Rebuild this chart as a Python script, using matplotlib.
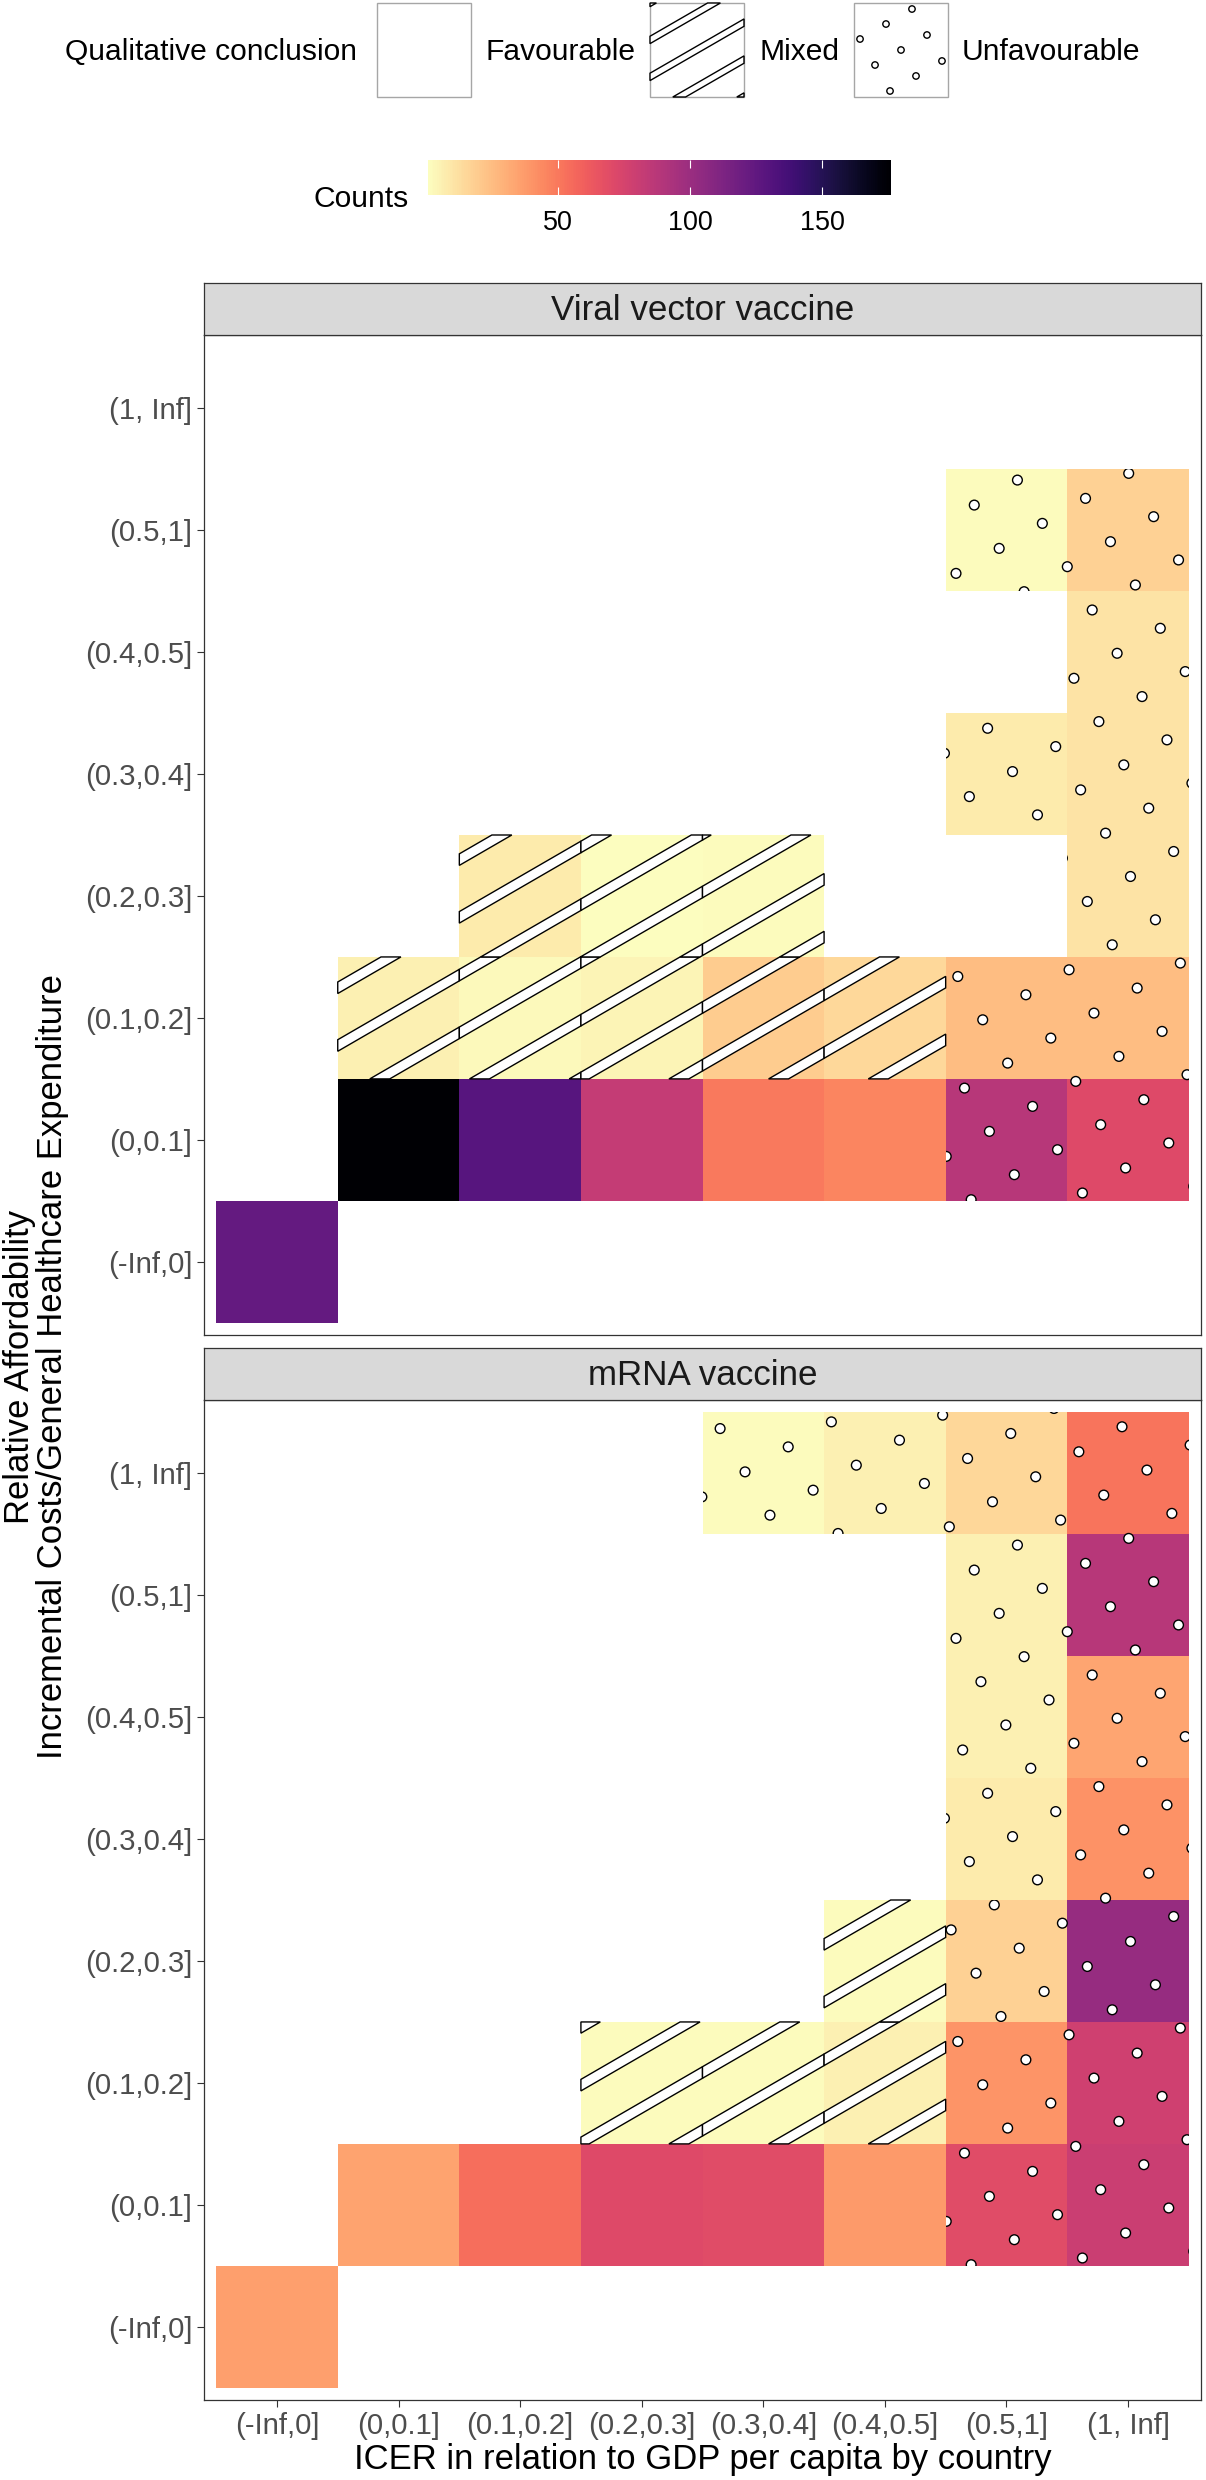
import numpy as np
import matplotlib
matplotlib.use('Agg')
import matplotlib.pyplot as plt
from matplotlib.patches import Rectangle, Polygon, Circle
from matplotlib.colors import Normalize
import matplotlib.cm as cm

plt.rcParams['font.family'] = ['Liberation Sans', 'DejaVu Sans']

########################################################################################################################
# Data
icer_levels = ['(-Inf,0]', '(0,0.1]', '(0.1,0.2]', '(0.2,0.3]', '(0.3,0.4]', '(0.4,0.5]', '(0.5,1]', '(1, Inf]']
afford_levels = ['(-Inf,0]', '(0,0.1]', '(0.1,0.2]', '(0.2,0.3]', '(0.3,0.4]', '(0.4,0.5]', '(0.5,1]', '(1, Inf]']
panel_titles = ['Viral vector vaccine', 'mRNA vaccine']
conclusions = ['Favourable', 'Mixed', 'Unfavourable']

# Viral vector vaccine
vv_icer = ['(-Inf,0]',
           '(0,0.1]', '(0.1,0.2]', '(0.2,0.3]', '(0.3,0.4]', '(0.4,0.5]', '(0.5,1]', '(1, Inf]',
           '(0,0.1]', '(0.1,0.2]', '(0.2,0.3]', '(0.3,0.4]', '(0.4,0.5]', '(0.5,1]', '(1, Inf]',
           '(0.1,0.2]', '(0.2,0.3]', '(0.3,0.4]', '(1, Inf]',
           '(0.5,1]', '(1, Inf]',
           '(1, Inf]',
           '(0.5,1]', '(1, Inf]']
vv_afford = ['(-Inf,0]',
             '(0,0.1]', '(0,0.1]', '(0,0.1]', '(0,0.1]', '(0,0.1]', '(0,0.1]', '(0,0.1]',
             '(0.1,0.2]', '(0.1,0.2]', '(0.1,0.2]', '(0.1,0.2]', '(0.1,0.2]', '(0.1,0.2]', '(0.1,0.2]',
             '(0.2,0.3]', '(0.2,0.3]', '(0.2,0.3]', '(0.2,0.3]',
             '(0.3,0.4]', '(0.3,0.4]',
             '(0.4,0.5]',
             '(0.5,1]', '(0.5,1]']
vv_count = [124,
            176, 129, 83, 50, 46, 88, 71,
            6, 3, 5, 20, 15, 25, 25,
            8, 1, 2, 11,
            8, 11,
            11,
            2, 18]
vv_concl = ['Favourable',
            'Favourable', 'Favourable', 'Favourable', 'Favourable', 'Favourable', 'Unfavourable', 'Unfavourable',
            'Mixed', 'Mixed', 'Mixed', 'Mixed', 'Mixed', 'Unfavourable', 'Unfavourable',
            'Mixed', 'Mixed', 'Mixed', 'Unfavourable',
            'Unfavourable', 'Unfavourable',
            'Unfavourable',
            'Unfavourable', 'Unfavourable']

# mRNA vaccine
mr_icer = ['(-Inf,0]',
           '(0,0.1]', '(0.1,0.2]', '(0.2,0.3]', '(0.3,0.4]', '(0.4,0.5]', '(0.5,1]', '(1, Inf]',
           '(0.2,0.3]', '(0.3,0.4]', '(0.4,0.5]', '(0.5,1]', '(1, Inf]',
           '(0.4,0.5]', '(0.5,1]', '(1, Inf]',
           '(0.5,1]', '(1, Inf]',
           '(0.5,1]', '(1, Inf]',
           '(0.5,1]', '(1, Inf]',
           '(0.3,0.4]', '(0.4,0.5]', '(0.5,1]', '(1, Inf]']
mr_afford = ['(-Inf,0]',
             '(0,0.1]', '(0,0.1]', '(0,0.1]', '(0,0.1]', '(0,0.1]', '(0,0.1]', '(0,0.1]',
             '(0.1,0.2]', '(0.1,0.2]', '(0.1,0.2]', '(0.1,0.2]', '(0.1,0.2]',
             '(0.2,0.3]', '(0.2,0.3]', '(0.2,0.3]',
             '(0.3,0.4]', '(0.3,0.4]',
             '(0.4,0.5]', '(0.4,0.5]',
             '(0.5,1]', '(0.5,1]',
             '(1, Inf]', '(1, Inf]', '(1, Inf]', '(1, Inf]']
mr_count = [36,
            35, 54, 71, 70, 38, 70, 80,
            2, 2, 6, 40, 78,
            2, 18, 102,
            8, 41,
            6, 34,
            6, 88,
            2, 6, 16, 52]
mr_concl = ['Favourable',
            'Favourable', 'Favourable', 'Favourable', 'Favourable', 'Favourable', 'Unfavourable', 'Unfavourable',
            'Mixed', 'Mixed', 'Mixed', 'Unfavourable', 'Unfavourable',
            'Mixed', 'Unfavourable', 'Unfavourable',
            'Unfavourable', 'Unfavourable',
            'Unfavourable', 'Unfavourable',
            'Unfavourable', 'Unfavourable',
            'Unfavourable', 'Unfavourable', 'Unfavourable', 'Unfavourable']

########################################################################################################################
# Layout helpers (figure is 1206 x 2480 px at dpi 100)
W, H = 1206, 2480
def fx(px):
    return px / W
def fy(py):
    return 1 - py / H
def pt(px):
    return px * 0.72

cmap = plt.get_cmap('magma_r')
all_counts = vv_count + mr_count
norm = Normalize(vmin=min(all_counts), vmax=max(all_counts))

GRID = '#333333'

#Clip a polygon to an axis-aligned rectangle (Sutherland-Hodgman).
def clip_rect(pts, x0, x1, y0, y1):
    def clip(pts, inside, inter):
        out = []
        for i in range(len(pts)):
            cur, prev = pts[i], pts[i - 1]
            if inside(cur):
                if not inside(prev):
                    out.append(inter(prev, cur))
                out.append(cur)
            elif inside(prev):
                out.append(inter(prev, cur))
        return out
    def ix(a, b, xv):
        t = (xv - a[0]) / (b[0] - a[0])
        return (xv, a[1] + t * (b[1] - a[1]))
    def iy(a, b, yv):
        t = (yv - a[1]) / (b[1] - a[1])
        return (a[0] + t * (b[0] - a[0]), yv)
    pts = [tuple(p) for p in pts]
    for inside, inter in [(lambda p: p[0] >= x0, lambda a, b: ix(a, b, x0)),
                          (lambda p: p[0] <= x1, lambda a, b: ix(a, b, x1)),
                          (lambda p: p[1] >= y0, lambda a, b: iy(a, b, y0)),
                          (lambda p: p[1] <= y1, lambda a, b: iy(a, b, y1))]:
        if not pts:
            break
        pts = clip(pts, inside, inter)
    return pts

def add_stripes(ax, x0, x1, y0, y1, origin, spacing, width, angle=30, lw=1.0, z=3):
    th = np.radians(angle)
    d = np.array([np.cos(th), np.sin(th)])
    n = np.array([-np.sin(th), np.cos(th)])
    origin = np.asarray(origin, dtype=float)
    corners = np.array([[x0, y0], [x1, y0], [x1, y1], [x0, y1]])
    proj = (corners - origin) @ n
    tproj = (corners - origin) @ d
    span = (x1 - x0) + (y1 - y0)
    t0, t1 = tproj.min() - span, tproj.max() + span
    kmin = int(np.floor((proj.min() - width) / spacing))
    kmax = int(np.ceil((proj.max() + width) / spacing))
    for k in range(kmin, kmax + 1):
        c = k * spacing
        a = origin + n * (c - width / 2)
        b = origin + n * (c + width / 2)
        band = [a + d * t0, a + d * t1, b + d * t1, b + d * t0]
        pts = clip_rect(band, x0, x1, y0, y1)
        if len(pts) >= 3:
            ax.add_patch(Polygon(pts, closed=True, facecolor='white', edgecolor='black', lw=lw, zorder=z))

def add_circles(ax, x0, x1, y0, y1, origin, spacing, radius, angle=30, lw=1.0, z=3):
    th = np.radians(angle)
    u = spacing * np.array([np.cos(th), np.sin(th)])
    v = spacing * np.array([-np.sin(th), np.cos(th)])
    origin = np.asarray(origin, dtype=float)
    corners = np.array([[x0, y0], [x1, y0], [x1, y1], [x0, y1]]) - origin
    a = corners @ u / spacing ** 2
    b = corners @ v / spacing ** 2
    clip = Rectangle((x0, y0), x1 - x0, y1 - y0, transform=ax.transData, facecolor='none')
    for i in range(int(np.floor(a.min())) - 1, int(np.ceil(a.max())) + 2):
        for j in range(int(np.floor(b.min())) - 1, int(np.ceil(b.max())) + 2):
            p = origin + i * u + j * v
            if x0 - radius <= p[0] <= x1 + radius and y0 - radius <= p[1] <= y1 + radius:
                circ = Circle(p, radius, facecolor='white', edgecolor='black', lw=lw, zorder=z)
                ax.add_patch(circ)
                circ.set_clip_path(clip)

#Pattern geometry in data units (panel spans 8.2 units, pattern spacing 5% of it).
SPACING = 0.41
STRIPE_W = 0.2 * SPACING
CIRCLE_R = 0.04
STRIPE_ORIGIN = (5.499, 3.189)
CIRCLE_ORIGIN = (7.05, 5.02)

def draw_panel(ax, icer, afford, counts, concl):
    xs = np.array([icer_levels.index(v) + 1 for v in icer])
    ys = np.array([afford_levels.index(v) + 1 for v in afford])
    cols = [cmap(norm(c)) for c in counts]
    ax.bar(xs, 1.0, width=1.0, bottom=ys - 0.5, color=cols, linewidth=0, zorder=1)
    for x, y, c in zip(xs, ys, concl):
        if c == 'Mixed':
            add_stripes(ax, x - 0.5, x + 0.5, y - 0.5, y + 0.5, STRIPE_ORIGIN, SPACING, STRIPE_W, lw=1.0)
        elif c == 'Unfavourable':
            add_circles(ax, x - 0.5, x + 0.5, y - 0.5, y + 0.5, CIRCLE_ORIGIN, SPACING, CIRCLE_R, lw=1.0)
    ax.set_xlim(0.4, 8.6)
    ax.set_ylim(0.4, 8.6)
    ax.set_xticks(range(1, 9))
    ax.set_yticks(range(1, 9))
    ax.set_yticklabels(afford_levels)
    ax.tick_params(length=5, width=0.8, color=GRID, labelsize=pt(29.4), labelcolor='#4D4D4D', pad=3.5)
    for s in ax.spines.values():
        s.set_color(GRID)
        s.set_linewidth(0.9)

########################################################################################################################
fig = plt.figure(figsize=(W / 100, H / 100), dpi=100)

panels = [(335, vv_icer, vv_afford, vv_count, vv_concl), (1400, mr_icer, mr_afford, mr_count, mr_concl)]
for (top, icer, afford, counts, concl), title in zip(panels, panel_titles):
    ax = fig.add_axes([fx(204), fy(top + 1000), (1201 - 204) / W, 1000 / H])
    draw_panel(ax, icer, afford, counts, concl)
    if top == 1400:
        ax.set_xticklabels(icer_levels)
    else:
        ax.set_xticks([])
    sax = fig.add_axes([fx(204), fy(top), (1201 - 204) / W, 52 / H])
    sax.set_facecolor('#D9D9D9')
    sax.set_xticks([])
    sax.set_yticks([])
    for s in sax.spines.values():
        s.set_color(GRID)
        s.set_linewidth(0.9)
    sax.text(0.5, 0.47, title, transform=sax.transAxes, ha='center', va='center',
             fontsize=pt(35), color='#1A1A1A')

#Axis titles
fig.text(fx(702.5), fy(2459), 'ICER in relation to GDP per capita by country', ha='center', va='center',
         fontsize=pt(34.6), color='black')
fig.text(fx(36), fy(1367), 'Relative Affordability\nIncremental Costs/General Healthcare Expenditure',
         rotation=90, ha='center', va='center', fontsize=pt(34.6), color='black', linespacing=1.0)

#Pattern legend
lax = fig.add_axes([0, fy(110), 1, 110 / H])
lax.set_xlim(0, W)
lax.set_ylim(0, 110)
lax.axis('off')
lax.text(65, 110 - 52, 'Qualitative conclusion', ha='left', va='center', fontsize=pt(30))
key_x = [377, 650, 854]
label_x = [485, 759, 962]
for kx, lx, lab in zip(key_x, label_x, conclusions):
    lax.add_patch(Rectangle((kx, 13), 94, 94, facecolor='white', edgecolor='#A6A6A6', lw=1.0, zorder=1))
    if lab == 'Mixed':
        add_stripes(lax, kx, kx + 94, 13, 107, (kx, 107), 32, 6.4, lw=1.0)
    elif lab == 'Unfavourable':
        add_circles(lax, kx, kx + 94, 13, 107, (kx + 47, 60), 30, 3.2, lw=1.0)
    lax.text(lx, 110 - 52, lab, ha='left', va='center', fontsize=pt(30))

#Colour bar
cax = fig.add_axes([fx(428), fy(195), (891 - 428) / W, 35 / H])
cb = fig.colorbar(cm.ScalarMappable(norm=norm, cmap=cmap), cax=cax, orientation='horizontal')
cb.outline.set_visible(False)
cb.set_ticks([50, 100, 150])
cax.tick_params(direction='in', color='white', length=6, width=0.8, top=True, bottom=True,
                labeltop=False, labelbottom=True, labelsize=pt(27), pad=11)
fig.text(fx(409), fy(199), 'Counts', ha='right', va='center', fontsize=pt(30))

plt.savefig('out.png', dpi=100)
